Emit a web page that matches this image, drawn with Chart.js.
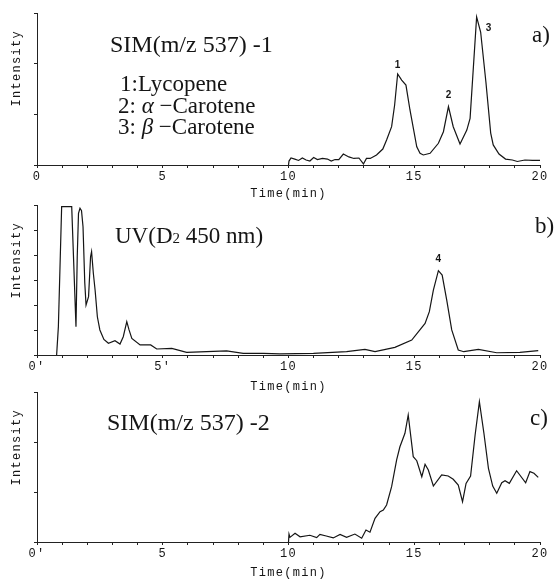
<!DOCTYPE html>
<html>
<head>
<meta charset="utf-8">
<script src="https://cdn.jsdelivr.net/npm/chart.js@4.4.0/dist/chart.umd.min.js"></script>
<style>
  body { margin: 0; background: #fff; }
  .wrap { position: relative; width: 559px; height: 580px; }
  canvas { position: absolute; left: 0; top: 0; }
</style>
</head>
<body>
<div class="wrap">
  <canvas id="chartA" width="559" height="580"></canvas>
  <canvas id="chartB" width="559" height="580"></canvas>
  <canvas id="chartC" width="559" height="580"></canvas>
</div>
<script>
// a) SIM (m/z 537) -1
const timeA = [10.0, 10.02, 10.1, 10.25, 10.4, 10.55, 10.7, 10.85, 11.0, 11.15, 11.35, 11.55, 11.7, 11.85,
  12.0, 12.18, 12.4, 12.6, 12.8, 12.98, 13.1, 13.25, 13.5, 13.75, 13.9, 14.1, 14.22, 14.34, 14.5, 14.67,
  14.83, 15.1, 15.23, 15.36, 15.63, 15.96, 16.16, 16.36, 16.55, 16.82, 17.09, 17.22, 17.48, 17.64, 17.85,
  18.04, 18.14, 18.37, 18.63, 18.9, 19.1, 19.4, 19.7, 20.0];
const intensityA = [0, 2.6, 4.6, 3.9, 3.0, 4.6, 3.3, 2.6, 4.9, 3.6, 4.3, 3.9, 2.6, 3.6,
  3.6, 7.2, 5.3, 4.3, 4.6, 0.7, 4.3, 4.3, 6.6, 10.5, 16.4, 25.2, 39.5, 59.9, 55.9, 52.6,
  36.2, 12.0, 7.7, 6.6, 7.7, 14.3, 21.9, 38.4, 25.2, 13.8, 23.0, 30.7, 97.4, 87.5, 54.4,
  21.0, 13.2, 7.2, 3.9, 3.3, 2.3, 3.3, 3.0, 3.0];

// b) UV (D2 450 nm)
const timeB = [0.78, 0.85, 0.98, 1.38, 1.55, 1.6, 1.65, 1.71, 1.77, 1.83, 1.9, 1.95, 2.05, 2.13, 2.17,
  2.24, 2.31, 2.4, 2.5, 2.66, 2.84, 3.1, 3.3, 3.43, 3.57, 3.66, 3.77, 4.1, 4.52, 4.76, 5.36, 5.95,
  7.54, 8.2, 9.0, 9.66, 10.99, 12.31, 13.04, 13.44, 14.23, 14.9, 15.43, 15.6, 15.76, 15.96, 16.11,
  16.29, 16.49, 16.75, 16.97, 17.55, 18.28, 19.2, 19.93];
const intensityB = [0, 18.9, 98.9, 98.9, 18.9, 65.5, 94.4, 97.8, 96.2, 85.5, 48.0, 33.3, 38.9, 65.5, 68.9,
  54.5, 43.3, 25.5, 16.7, 10.4, 7.8, 9.5, 7.3, 12.2, 22.2, 16.7, 11.1, 6.7, 6.7, 4.0, 4.4, 1.8,
  2.7, 1.1, 1.1, 0.7, 1.1, 2.2, 3.8, 2.2, 5.1, 10.0, 21.1, 28.9, 43.3, 56.2, 53.3,
  36.7, 16.7, 3.3, 2.2, 3.8, 1.5, 1.8, 2.9];

// c) SIM (m/z 537) -2
const timeC = [10.0, 10.02, 10.06, 10.26, 10.46, 10.85, 11.12, 11.25, 11.5, 11.78, 12.05, 12.31, 12.64,
  12.91, 13.08, 13.24, 13.44, 13.64, 13.77, 13.9, 14.1, 14.3, 14.43, 14.63, 14.76, 14.96, 15.1, 15.3,
  15.43, 15.56, 15.76, 16.09, 16.35, 16.55, 16.75, 16.92, 17.06, 17.24, 17.42, 17.59, 17.77, 17.95,
  18.12, 18.28, 18.48, 18.61, 18.78, 19.07, 19.43, 19.6, 19.76, 19.93];
const intensityC = [0, 5.3, 3.1, 5.8, 3.5, 4.5, 2.9, 5.1, 4.0, 2.7, 5.1, 3.1, 5.3,
  2.5, 8.0, 6.5, 15.8, 20.2, 21.3, 24.7, 36.9, 54.7, 63.5, 72.5, 84.7, 56.9, 54.2, 43.5,
  51.8, 48.0, 37.3, 44.7, 44.0, 41.8, 38.0, 26.9, 39.1, 44.0, 71.3, 93.5, 72.5, 49.1,
  37.3, 32.5, 39.5, 40.9, 39.1, 47.5, 39.5, 46.9, 45.8, 43.1];

const xLabelsA = ['0', '5', '10', '15', '20'];
const xLabelsB = ["0'", "5'", '10', '15', '20'];
const xLabelsC = ["0'", '5', '10', '15', '20'];

const peakLabelsA = ['1', '2', '3'];
const peakTimesA = [14.34, 16.36, 17.48];
const peakLabelsB = ['4'];
const peakTimesB = [15.96];

const MONO = '"Liberation Mono", monospace';
const SERIF = '"Liberation Serif", serif';
const INK = '#151515';

function makeNotes(texts, peaks) {
  return {
    id: 'notes',
    beforeDraw(chart) {
      chart.ctx.letterSpacing = '1.3px';
    },
    afterDraw(chart) {
      const ctx = chart.ctx;
      ctx.save();
      ctx.letterSpacing = '0px';
      ctx.fillStyle = INK;
      ctx.textBaseline = 'alphabetic';
      ctx.textAlign = 'left';
      texts.forEach(t => {
        let x = t.x;
        t.parts.forEach(p => {
          ctx.font = p.font;
          ctx.fillText(p.text, x, t.y + (p.dy || 0));
          x += ctx.measureText(p.text).width;
        });
      });
      const xs = chart.scales.x, ys = chart.scales.y;
      ctx.font = 'bold 10px "Liberation Sans", sans-serif';
      ctx.textAlign = 'center';
      ctx.textBaseline = 'middle';
      peaks.forEach(p => {
        ctx.fillText(p.label, xs.getPixelForValue(p.x) + p.dx, ys.getPixelForValue(p.y) + p.dy);
      });
      ctx.restore();
    }
  };
}

function peakList(labels, peakTimes, times, values, offsets) {
  return labels.map((lab, i) => {
    const k = times.indexOf(peakTimes[i]);
    return { label: lab, x: peakTimes[i], y: values[k], dx: offsets[i][0], dy: offsets[i][1] };
  });
}

function makeChart(id, times, values, cfg) {
  const half = 7.2; // half line height of axis titles
  const padBottom = Math.max(0, 580 - cfg.titleY - half);
  new Chart(document.getElementById(id), {
    type: 'line',
    data: {
      datasets: [{
        data: times.map((t, i) => ({ x: t, y: values[i] })),
        borderColor: INK,
        borderWidth: 1.2,
        pointRadius: 0,
        tension: 0,
        fill: false,
      }],
    },
    options: {
      responsive: false,
      animation: false,
      events: [],
      layout: { padding: { left: 0, right: 19, top: cfg.top, bottom: padBottom } },
      plugins: { legend: { display: false }, tooltip: { enabled: false } },
      scales: {
        x: {
          type: 'linear', min: 0, max: 20,
          border: { color: '#222', width: 1 },
          grid: { drawOnChartArea: false, tickLength: 3, color: '#222' },
          ticks: {
            stepSize: 1, autoSkip: false, maxRotation: 0, padding: 2, color: INK,
            font: { family: MONO, size: 12 },
            callback: v => (v % 5 === 0 ? cfg.xLabels[v / 5] : ''),
          },
          title: { display: true, text: 'Time(min)', color: INK, padding: 0, font: { family: MONO, size: 12 } },
          afterFit: s => { s.height = 580 - padBottom - cfg.bottom; },
        },
        y: {
          min: 0, max: 100,
          border: { color: '#222', width: 1 },
          grid: { drawOnChartArea: false, tickLength: 3, color: '#222' },
          ticks: { display: false },
          afterBuildTicks: s => { s.ticks = cfg.yTicks.map(v => ({ value: v })); },
          title: {
            display: true, text: 'Intensity  ', align: 'end', color: INK,
            padding: { top: 10, bottom: 0 }, font: { family: MONO, size: 12 },
          },
          afterFit: s => { s.width = 37; },
        },
      },
    },
    plugins: [makeNotes(cfg.texts, cfg.peaks)],
  });
}

const thirds = [0, 100 / 3, 200 / 3, 100];
const sixths = [0, 1, 2, 3, 4, 5, 6].map(v => v * 100 / 6);

makeChart('chartA', timeA, intensityA, {
  top: 13, bottom: 165, titleY: 194, xLabels: xLabelsA, yTicks: thirds,
  texts: [
    { x: 110, y: 52, parts: [{ text: 'SIM(m/z 537) -1', font: '24px ' + SERIF }] },
    { x: 120, y: 91, parts: [{ text: '1:Lycopene', font: '23px ' + SERIF }] },
    { x: 118, y: 113, parts: [{ text: '2: ', font: '23px ' + SERIF }, { text: 'α', font: 'italic 23px ' + SERIF }, { text: ' −Carotene', font: '23px ' + SERIF }] },
    { x: 118, y: 134, parts: [{ text: '3: ', font: '23px ' + SERIF }, { text: 'β', font: 'italic 23px ' + SERIF }, { text: ' −Carotene', font: '23px ' + SERIF }] },
    { x: 532, y: 42, parts: [{ text: 'a)', font: '23px ' + SERIF }] },
  ],
  peaks: peakList(peakLabelsA, peakTimesA, timeA, intensityA, [[0, -9], [0, -11], [12, 11]]),
});

makeChart('chartB', timeB, intensityB, {
  top: 205, bottom: 355, titleY: 387, xLabels: xLabelsB, yTicks: sixths,
  texts: [
    { x: 115, y: 243, parts: [{ text: 'UV(D', font: '23px ' + SERIF }, { text: '2', font: '15px ' + SERIF }, { text: ' 450 nm)', font: '23px ' + SERIF }] },
    { x: 535, y: 233, parts: [{ text: 'b)', font: '23px ' + SERIF }] },
  ],
  peaks: peakList(peakLabelsB, peakTimesB, timeB, intensityB, [[0, -11]]),
});

makeChart('chartC', timeC, intensityC, {
  top: 392, bottom: 542, titleY: 573, xLabels: xLabelsC, yTicks: thirds,
  texts: [
    { x: 107, y: 430, parts: [{ text: 'SIM(m/z 537) -2', font: '24px ' + SERIF }] },
    { x: 530, y: 425, parts: [{ text: 'c)', font: '23px ' + SERIF }] },
  ],
  peaks: [],
});
</script>
</body>
</html>
